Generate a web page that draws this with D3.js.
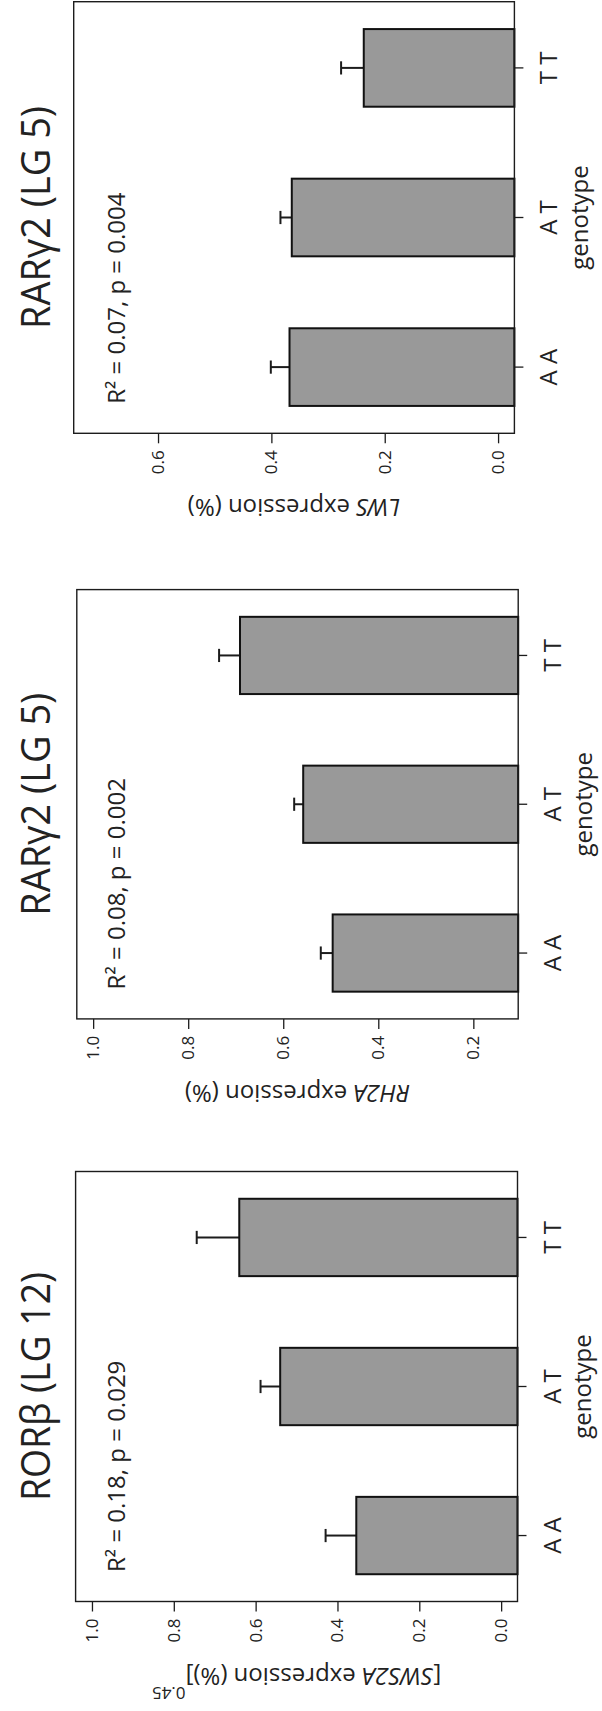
<!DOCTYPE html>
<html>
<head>
<meta charset="utf-8">
<script src="https://cdn.jsdelivr.net/npm/d3@7"></script>
<style>
  html, body { margin: 0; padding: 0; background: #fff; }
  svg { display: block; }
  text { font-family: "Open Sans", "Noto Sans", sans-serif; fill: #222; }
</style>
</head>
<body>
<script>
// Genotype effects on opsin expression, three panels drawn side by side
// and then turned a quarter turn so they stack on the page.

const genotypes = ["A A", "A T", "T T"];

const panelTitles = ["RORβ (LG 12)", "RARγ2 (LG 5)", "RARγ2 (LG 5)"];
const opsinGenes = ["SWS2A", "RH2A", "LWS"];
const statsLabels = ["R² = 0.18, p = 0.029", "R² = 0.08, p = 0.002", "R² = 0.07, p = 0.004"];

// mean expression per genotype and the upper error (SE)
const meanSWS2A = [0.354, 0.540, 0.640];
const errSWS2A  = [0.075, 0.048, 0.104];
const meanRH2A  = [0.496, 0.558, 0.691];
const errRH2A   = [0.025, 0.019, 0.044];
const meanLWS   = [0.368, 0.364, 0.237];
const errLWS    = [0.033, 0.020, 0.040];

const yTicksSWS2A = [0, 0.2, 0.4, 0.6, 0.8, 1.0];
const yTicksRH2A  = [0.2, 0.4, 0.6, 0.8, 1.0];
const yTicksLWS   = [0, 0.2, 0.4, 0.6];

const yLimSWS2A = [0, 1];
const yLimRH2A  = [0.14, 1];
const yLimLWS   = [0, 0.72];

const panels = [
  { title: panelTitles[0], gene: opsinGenes[0], stats: statsLabels[0], mean: meanSWS2A, err: errSWS2A, ticks: yTicksSWS2A, lim: yLimSWS2A, power: "0.45", bracket: true },
  { title: panelTitles[1], gene: opsinGenes[1], stats: statsLabels[1], mean: meanRH2A,  err: errRH2A,  ticks: yTicksRH2A,  lim: yLimRH2A,  power: null, bracket: false },
  { title: panelTitles[2], gene: opsinGenes[2], stats: statsLabels[2], mean: meanLWS,   err: errLWS,   ticks: yTicksLWS,   lim: yLimLWS,   power: null, bracket: false }
];

// plot boxes in the unrotated figure (u runs left to right, v top to bottom)
const frames = [
  { u0: 109.5,  u1: 539.5,  v0: 75.6, v1: 517.5, titleLen: 229 },
  { u0: 692.1,  u1: 1121.4, v0: 76.8, v1: 518.2, titleLen: 223 },
  { u0: 1277.7, u1: 1709.3, v0: 73.7, v1: 514.4, titleLen: 223 }
];

const W = 602, H = 1711;
const ink = "#1c1c1c";

const svg = d3.select("body").append("svg")
  .attr("width", W).attr("height", H);
svg.append("rect").attr("width", W).attr("height", H).attr("fill", "#fff");

const root = svg.append("g").attr("transform", `translate(0,${H}) rotate(-90)`);

panels.forEach((p, i) => {
  const f = frames[i];
  const pad = 0.04 * (p.lim[1] - p.lim[0]);
  const y = d3.scaleLinear().domain([p.lim[0] - pad, p.lim[1] + pad]).range([f.v1, f.v0]);
  const x = d3.scaleBand().domain(genotypes).range([f.u0, f.u1])
    .paddingInner(0.481).paddingOuter(0.183);

  const g = root.append("g");
  const rows = genotypes.map((k, j) => ({ k, m: p.mean[j], e: p.err[j] }));

  // error whiskers (upper only) sit behind the bars
  const eb = g.append("g").attr("stroke", ink).attr("stroke-width", 2);
  eb.selectAll("line.w").data(rows).join("line").attr("class", "w")
    .attr("x1", d => x(d.k) + x.bandwidth() / 2).attr("x2", d => x(d.k) + x.bandwidth() / 2)
    .attr("y1", d => y(d.m)).attr("y2", d => y(d.m + d.e));
  eb.selectAll("line.c").data(rows).join("line").attr("class", "c")
    .attr("x1", d => x(d.k) + x.bandwidth() / 2 - 6.6).attr("x2", d => x(d.k) + x.bandwidth() / 2 + 6.6)
    .attr("y1", d => y(d.m + d.e)).attr("y2", d => y(d.m + d.e));

  // bars run from the bottom of the plot box
  g.append("g").selectAll("rect").data(rows).join("rect")
    .attr("x", d => x(d.k)).attr("width", x.bandwidth())
    .attr("y", d => y(d.m)).attr("height", d => f.v1 - y(d.m))
    .attr("fill", "#999999").attr("stroke", "#111").attr("stroke-width", 2);

  // plot box
  g.append("rect").attr("x", f.u0).attr("y", f.v0)
    .attr("width", f.u1 - f.u0).attr("height", f.v1 - f.v0)
    .attr("fill", "none").attr("stroke", ink).attr("stroke-width", 1.4);

  // value axis
  const ya = g.append("g").attr("transform", `translate(${f.u0},0)`)
    .call(d3.axisLeft(y).tickValues(p.ticks).tickFormat(d3.format(".1f")).tickSize(10).tickPadding(7));
  ya.select(".domain").remove();
  ya.attr("font-family", null).attr("font-size", null);
  ya.selectAll("line").attr("stroke", ink).attr("stroke-width", 1.3);
  ya.selectAll("text").attr("font-size", 17).attr("fill", "#222");

  // genotype axis
  const xa = g.append("g").attr("transform", `translate(0,${f.v1})`)
    .call(d3.axisBottom(x).tickSize(9).tickPadding(17));
  xa.select(".domain").remove();
  xa.attr("font-family", null).attr("font-size", null);
  xa.selectAll("line").attr("stroke", ink).attr("stroke-width", 1.3);
  xa.selectAll("text").attr("font-size", 24).attr("fill", "#222");

  const cu = (f.u0 + f.u1) / 2;

  // panel title
  g.append("text").attr("x", cu).attr("y", 49.5)
    .attr("text-anchor", "middle").attr("font-size", 41)
    .attr("textLength", f.titleLen).attr("lengthAdjust", "spacingAndGlyphs")
    .text(p.title);

  // model fit
  g.append("text").attr("x", f.u0 + 29.5).attr("y", 124.8)
    .attr("font-size", 24).text(p.stats);

  // genotype axis title
  g.append("text").attr("x", cu).attr("y", f.v1 + 73.5)
    .attr("text-anchor", "middle").attr("font-size", 24).text("genotype");

  // value axis title
  const cv = (f.v0 + f.v1) / 2;
  const t = g.append("text")
    .attr("transform", `translate(${f.u0 - 66},${cv}) rotate(-90)`)
    .attr("text-anchor", "middle").attr("font-size", 24);
  if (p.bracket) t.append("tspan").text("[");
  t.append("tspan").attr("font-style", "italic").text(p.gene);
  t.append("tspan").text(" expression (%)" + (p.bracket ? "]" : ""));
  if (p.power) {
    t.append("tspan").attr("font-size", 17).attr("dy", -19).text(p.power);
  }
});
</script>
</body>
</html>
